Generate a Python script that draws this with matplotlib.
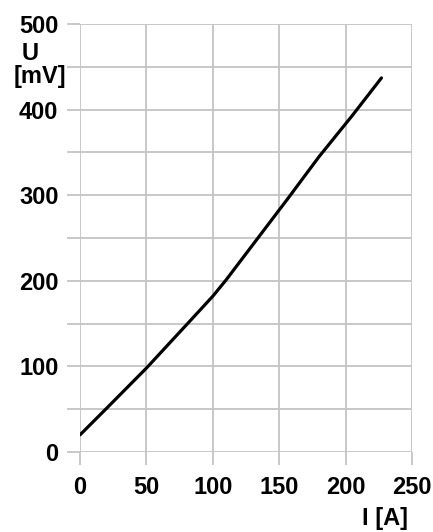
import matplotlib
matplotlib.use("Agg")
import matplotlib.pyplot as plt

# Data
current_A = [0, 20, 50, 81, 100, 110, 133, 156, 180, 205, 227]
voltage_mV = [20, 51, 98, 150, 182, 201, 248, 295, 345, 393, 437]
x_ticks = [0, 50, 100, 150, 200, 250]
y_ticks = [0, 100, 200, 300, 400, 500]
y_minor = [50, 150, 250, 350, 450]

plt.rcParams['font.family'] = ['Liberation Sans', 'DejaVu Sans']
W, H = 433, 532
fig = plt.figure(figsize=(W / 100, H / 100), dpi=100)
ax = fig.add_axes([80 / W, (H - 452) / H, (412 - 80) / W, (452 - 24) / H])

grid_color = '#c4c4c4'
ax.set_xlim(0, 250)
ax.set_ylim(0, 500)
for s in ax.spines.values():
    s.set_visible(False)
for x in x_ticks:
    ax.axvline(x, color=grid_color, lw=1.3, zorder=1)
for y in y_ticks + y_minor:
    ax.axhline(y, color=grid_color, lw=1.3, zorder=1)

ax.plot(current_A, voltage_mV, color='black', lw=2.3, zorder=3,
        solid_capstyle='round')

ax.set_xticks(x_ticks)
ax.set_yticks(y_ticks)
ax.set_yticks(y_minor, minor=True)
ax.set_xticklabels([str(v) for v in x_ticks], fontsize=17, fontweight='bold')
ax.set_yticklabels([str(v) for v in y_ticks], fontsize=17, fontweight='bold')
ax.tick_params(axis='both', which='both', direction='out', length=9.5,
               width=1.3, color=grid_color)
ax.tick_params(axis='x', pad=8)
ax.tick_params(axis='y', pad=6)

fig.text(22 / W, 1 - 53 / H, 'U', fontsize=17, fontweight='bold',
         ha='left', va='center')
fig.text(14 / W, 1 - 77 / H, '[mV]', fontsize=17, fontweight='bold',
         ha='left', va='center')
fig.text(408 / W, 1 - 518 / H, 'I [A]', fontsize=17, fontweight='bold',
         ha='right', va='center')

fig.savefig('out.png', dpi=100)
